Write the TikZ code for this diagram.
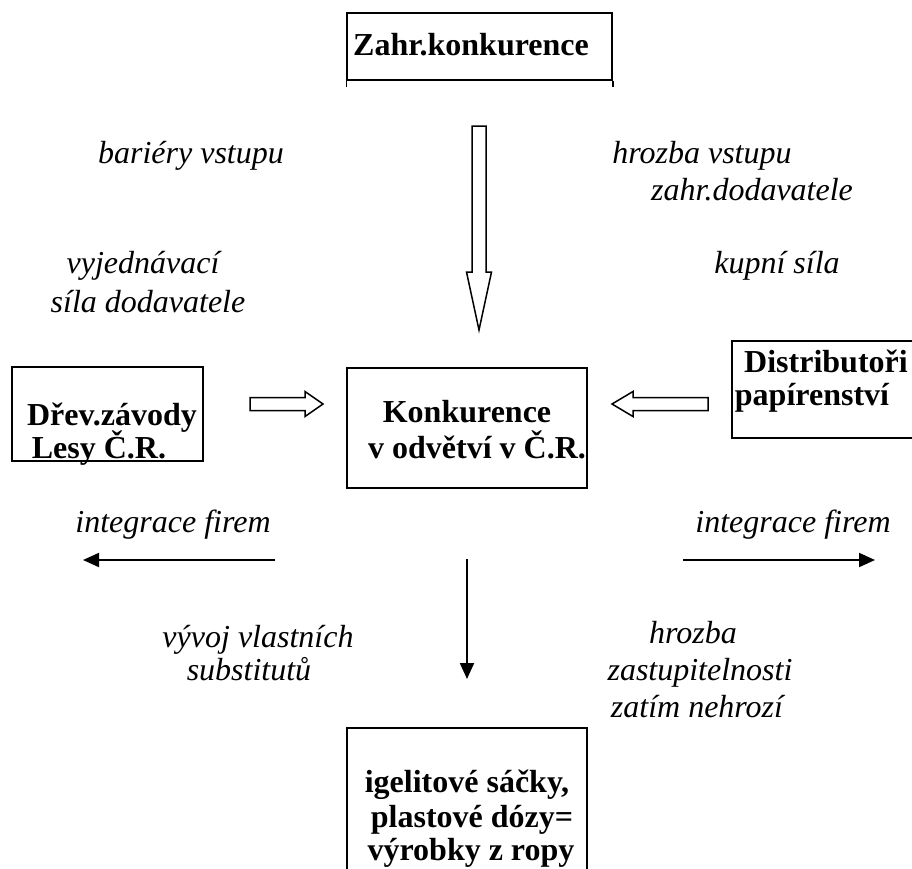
\documentclass[tikz,border=0pt]{standalone}
\usepackage{fontspec}
\setmainfont{Liberation Serif}
\usetikzlibrary{arrows.meta}

\tikzset{
  box/.style={draw, line width=1.5pt, inner sep=0pt},
  bold/.style={anchor=base, inner sep=0pt, font=\fontsize{32}{36}\selectfont\bfseries},
  lab/.style={anchor=base, inner sep=0pt, font=\fontsize{32}{36}\selectfont\itshape},
  hollow/.style={draw, line width=1.5pt, line join=miter},
  thinarrow/.style={line width=2pt, -{Triangle[length=16pt,width=14pt]}}
}

\begin{document}
\begin{tikzpicture}[x=1pt,y=-1pt]
\useasboundingbox (0,0) rectangle (912,868);

% boxes
\node[box, minimum width=265pt, minimum height=67pt] (zahr) at (479.5,46.5) {};
\draw[line width=1.5pt] (zahr.south west) -- ++(0,6);
\draw[line width=1.5pt] (zahr.south east) -- ++(0,6);
\node[box, minimum width=191pt, minimum height=94pt] (drev) at (107.5,414) {};
\node[box, minimum width=240pt, minimum height=120pt] (konk) at (467,428) {};
\node[box, minimum width=200pt, minimum height=97pt] (dist) at (832,389.5) {};
\node[box, minimum width=240pt, minimum height=172pt] (igel) at (467,814) {};

% box texts
\node[bold] (zahrT) at (471,55) {Zahr.konkurence};
\node[bold] (drevT1) at (112,425) {Dřev.závody};
\node[bold] (drevT2) at (99,458) {Lesy Č.R.};
\node[bold] (konkT1) at (467,422) {Konkurence};
\node[bold] (konkT2) at (477,458) {v odvětví v Č.R.};
\node[bold] (distT1) at (826,372) {Distributoři};
\node[bold] (distT2) at (812,405) {papírenství};
\node[bold] (igelT1) at (467,792) {igelitové sáčky,};
\node[bold] (igelT2) at (472,827) {plastové dózy=};
\node[bold] (igelT3) at (471,860) {výrobky z ropy};

% labels
\node[lab] (bar) at (191,163) {bariéry vstupu};
\node[lab] (vyj1) at (143,273) {vyjednávací};
\node[lab] (vyj2) at (148,312) {síla dodavatele};
\node[lab] (hroz1) at (702,163) {hrozba vstupu};
\node[lab] (hroz2) at (752,200) {zahr.dodavatele};
\node[lab] (kup) at (777,273) {kupní síla};
\node[lab] (intL) at (173,532) {integrace firem};
\node[lab] (intR) at (793,532) {integrace firem};
\node[lab] (vyv1) at (258,647) {vývoj vlastních};
\node[lab] (vyv2) at (249,680) {substitutů};
\node[lab] (zas1) at (693,643) {hrozba};
\node[lab] (zas2) at (700,680) {zastupitelnosti};
\node[lab] (zas3) at (697,717) {zatím nehrozí};

% hollow arrows
\coordinate (dTip) at (479,330);
\draw[hollow] (dTip) -- ++(12.5,-58) -- ++(-5.5,0) -- ++(0,-146) -- ++(-14,0) -- ++(0,146) -- ++(-5.5,0) -- cycle;
\coordinate (rTip) at (323,404);
\draw[hollow] (rTip) -- ++(-18,-12.5) -- ++(0,6) -- ++(-55,0) -- ++(0,13) -- ++(55,0) -- ++(0,6) -- cycle;
\coordinate (lTip) at (612,404);
\draw[hollow] (lTip) -- ++(21,-12.5) -- ++(0,6) -- ++(75,0) -- ++(0,13) -- ++(-75,0) -- ++(0,6) -- cycle;

% thin arrows
\coordinate (intLs) at (275,560);
\coordinate (intLe) at (83,560);
\coordinate (intRs) at (683,560);
\coordinate (intRe) at (875,560);
\coordinate (subS) at (467,559);
\coordinate (subE) at (467,679);
\draw[thinarrow] (intLs) -- (intLe);
\draw[thinarrow] (intRs) -- (intRe);
\draw[thinarrow] (subS) -- (subE);

\end{tikzpicture}
\end{document}
